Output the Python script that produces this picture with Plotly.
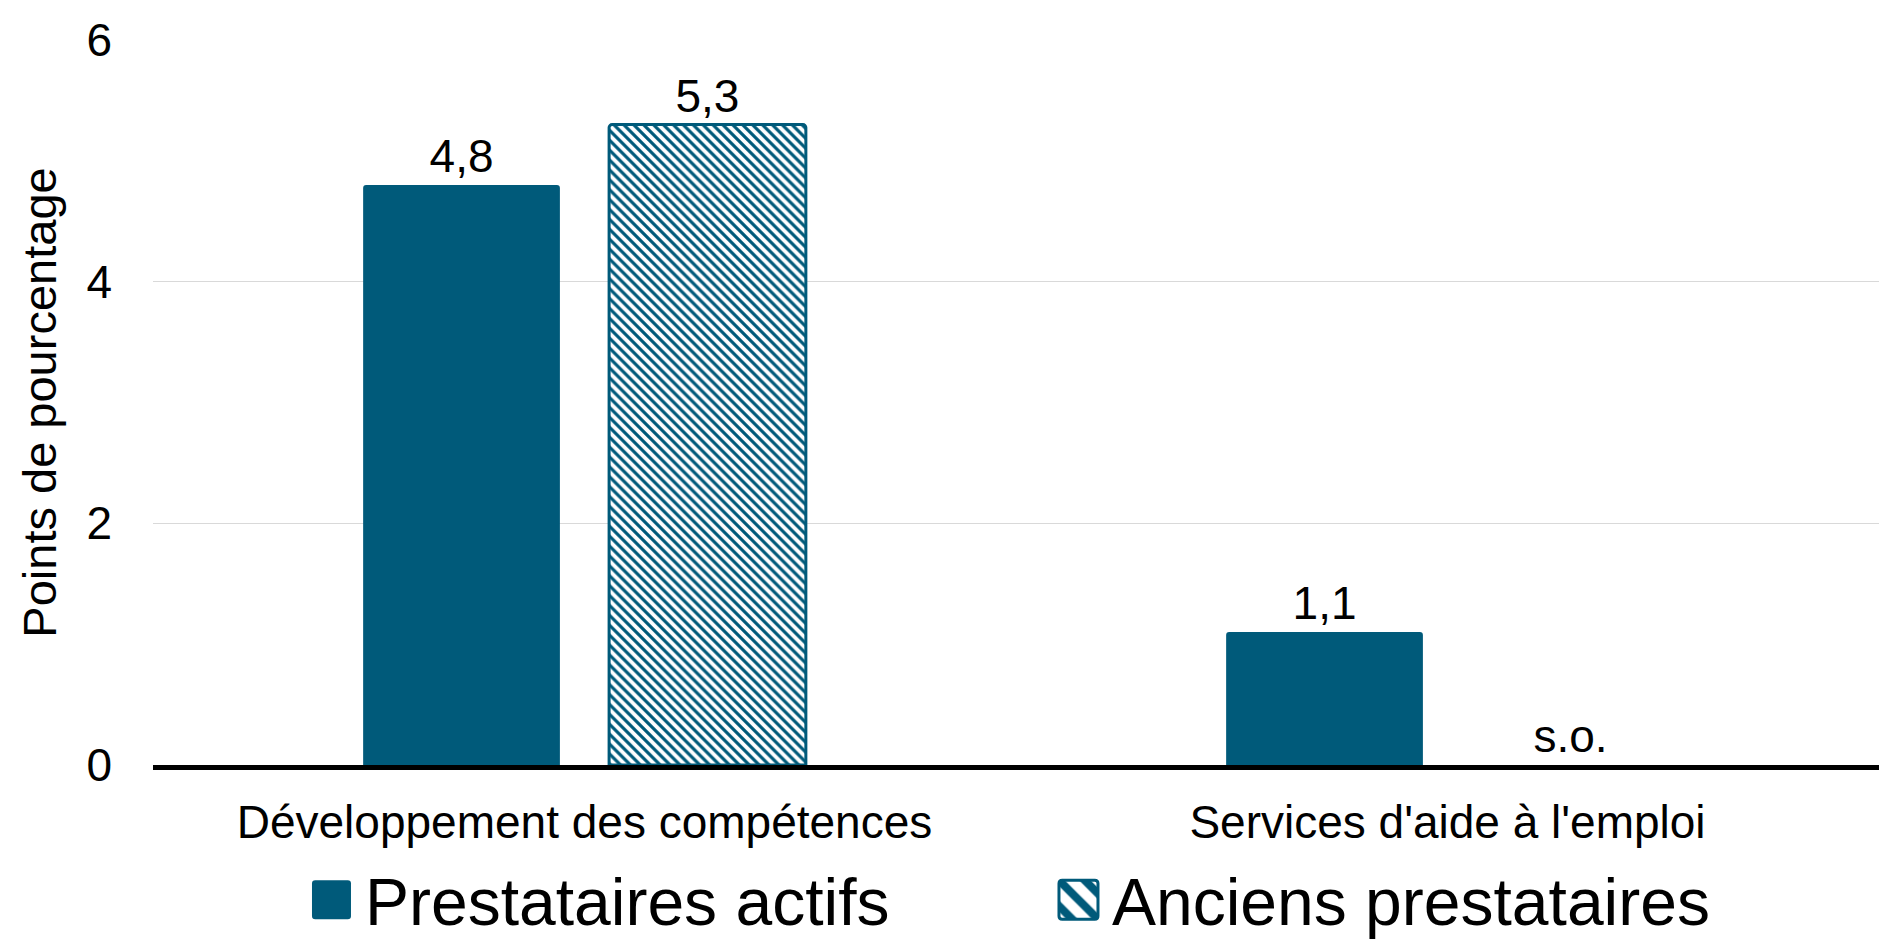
import plotly.graph_objects as go

categories = ["Développement des compétences", "Services d'aide à l'emploi"]
series_names = ["Prestataires actifs", "Anciens prestataires"]
actifs = [4.8, 1.1]
anciens = [5.3, 0]          # second value is "s.o." (sans objet)
actifs_labels = ["4,8", "1,1"]
anciens_labels = ["5,3", "s.o."]
y_ticks = [0, 2, 4, 6]

COLOR = "#005A7A"
FONT = "Arial, Liberation Sans, sans-serif"

fig = go.Figure()
fig.add_trace(go.Bar(
    name=series_names[0], x=categories, y=actifs,
    text=actifs_labels, textposition="outside",
    textfont=dict(size=46, color="black", family=FONT),
    marker=dict(color=COLOR, line=dict(width=0)),
    cliponaxis=False,
))
fig.add_trace(go.Bar(
    name=series_names[1], x=categories, y=anciens,
    text=anciens_labels, textposition="outside",
    textfont=dict(size=46, color="black", family=FONT),
    marker=dict(
        color="white",
        line=dict(color=COLOR, width=[3, 0]),
        pattern=dict(shape="\\", fgcolor=COLOR, bgcolor="white",
                     size=7, solidity=0.45, fillmode="replace"),
    ),
    cliponaxis=False,
))

fig.update_layout(
    width=1890, height=945,
    paper_bgcolor="white", plot_bgcolor="white",
    font=dict(family=FONT, color="black"),
    barmode="group", bargap=0.43, bargroupgap=0.2, barcornerradius=3,
    margin=dict(l=145, r=19, t=32, b=188, autoexpand=False),
    showlegend=True,
    legend=dict(
        orientation="h", x=0.084, xanchor="left", y=-0.186, yanchor="middle",
        font=dict(size=66, family=FONT, color="black"),
        itemwidth=57, entrywidth=675, entrywidthmode="pixels",
        traceorder="normal", borderwidth=0,
    ),
)
fig.update_xaxes(
    showline=True, linecolor="black", linewidth=5,
    ticks="", tickfont=dict(size=46, family=FONT, color="black"),
    ticklabelstandoff=13, automargin=False, showgrid=False,
)
fig.update_yaxes(
    range=[0, 6], tickvals=y_ticks, ticktext=[str(v) for v in y_ticks],
    showgrid=True, gridcolor="#D9D9D9", gridwidth=1,
    zeroline=False, showline=False, ticks="",
    tickfont=dict(size=46, family=FONT, color="black"),
    ticklabelstandoff=40, automargin=False,
    title=dict(text="Points de pourcentage", font=dict(size=47, family=FONT, color="black"), standoff=14),
)

post = """
var gd = document.getElementById('{plot_id}');
function fixLegend(){
  gd.querySelectorAll('.legendpoints path').forEach(function(p){
    var orig = p.getAttribute('data-orig-tf');
    if (orig === null) { orig = p.getAttribute('transform') || ''; p.setAttribute('data-orig-tf', orig); }
    p.setAttribute('d', 'M-5,-6H5Q6,-6 6,-5V5Q6,6 5,6H-5Q-6,6 -6,5V-5Q-6,-6 -5,-6Z');
    p.setAttribute('transform', orig + ' scale(3.25)');
    p.style.vectorEffect = 'non-scaling-stroke';
  });
}
fixLegend();
gd.on('plotly_afterplot', fixLegend);
"""

fig.write_html("out.html", post_script=post)
